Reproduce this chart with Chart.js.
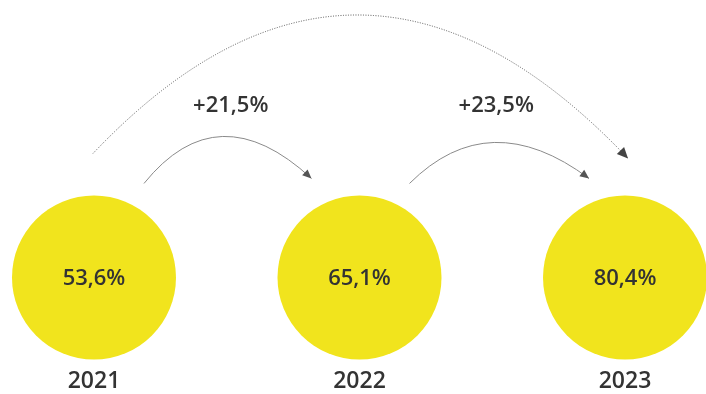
<!DOCTYPE html>
<html>
<head>
<meta charset="utf-8">
<script src="https://cdn.jsdelivr.net/npm/chart.js@4.4.1/dist/chart.umd.min.js"></script>
<style>
    html, body { margin: 0; padding: 0; background: #fff; }
    #wrap { width: 706px; height: 394px; }
</style>
</head>
<body>
<div id="wrap"><canvas id="chart"></canvas></div>
<script>
// Données
const years = [2021, 2022, 2023];
const shares = [53.6, 65.1, 80.4];
const changes = [21.5, 23.5];

// Style
const YELLOW = '#f1e41d';
const TEXT = '#333333';
const FONT = '"Open Sans", "Noto Sans", sans-serif';
const arcEndInset = [48, 36];
const arcPeak = [141, 135];

function formatPct(v, sign) {
    return (sign && v > 0 ? '+' : '') + v.toFixed(1).replace('.', ',') + '%';
}

// Flèche en courbe quadratique, avec pointe
function drawArrow(ctx, x0, y0, x1, y1, px, py, opts) {
    const cx = 2 * px - 0.5 * (x0 + x1);
    const cy = 2 * py - 0.5 * (y0 + y1);
    ctx.save();
    ctx.strokeStyle = opts.line;
    ctx.lineWidth = 1;
    ctx.setLineDash(opts.dash || []);
    ctx.beginPath();
    ctx.moveTo(x0, y0);
    ctx.quadraticCurveTo(cx, cy, x1, y1);
    ctx.stroke();
    ctx.setLineDash([]);
    const a = Math.atan2(y1 - cy, x1 - cx);
    const L = opts.headLen, W = opts.headW;
    ctx.fillStyle = opts.head;
    ctx.beginPath();
    ctx.moveTo(x1, y1);
    ctx.lineTo(x1 - L * Math.cos(a) + W * Math.sin(a), y1 - L * Math.sin(a) - W * Math.cos(a));
    ctx.lineTo(x1 - L * Math.cos(a) - W * Math.sin(a), y1 - L * Math.sin(a) + W * Math.cos(a));
    ctx.closePath();
    ctx.fill();
    ctx.restore();
}

const overlayPlugin = {
    id: 'overlay',
    afterDatasetsDraw(chart) {
        const ctx = chart.ctx;
        const xs = chart.scales.x, ys = chart.scales.y;
        const cy = ys.getPixelForValue(0);
        const px = years.map(y => xs.getPixelForValue(y));

        ctx.save();
        ctx.textAlign = 'center';
        ctx.textBaseline = 'middle';
        ctx.fillStyle = TEXT;

        // Valeurs dans les cercles
        ctx.font = '600 22px ' + FONT;
        shares.forEach((v, i) => ctx.fillText(formatPct(v), px[i], cy + 1));

        // Années sous les cercles
        ctx.font = '600 23px ' + FONT;
        years.forEach((y, i) => ctx.fillText(String(y), px[i], cy + 104));

        // Variations d'une année à l'autre
        changes.forEach((c, i) => {
            const x0 = px[i] + 50, y0 = cy - 94;
            const x1 = px[i + 1] - arcEndInset[i], y1 = cy - 99;
            const mid = (x0 + x1) / 2;
            drawArrow(ctx, x0, y0, x1, y1, mid - 5, cy - arcPeak[i], {
                line: '#8a8a8a', head: '#555', headLen: 9, headW: 4
            });
            ctx.fillStyle = TEXT;
            ctx.font = '600 22px ' + FONT;
            ctx.fillText(formatPct(c, true), (px[i] + px[i + 1]) / 2 + 4, 106);
        });

        // Grand arc 2021 -> 2023
        drawArrow(ctx, px[0] - 1, cy - 124, px[2] + 3, cy - 119, px[1], 15, {
            line: '#555', head: '#444', headLen: 11, headW: 5, dash: [1, 1.5]
        });
        ctx.restore();
    }
};

const ctx = document.getElementById('chart').getContext('2d');
new Chart(ctx, {
    type: 'bubble',
    data: {
        datasets: [{
            data: years.map(y => ({ x: y, y: 0 })),
            backgroundColor: YELLOW,
            borderWidth: 0,
            radius: 82,
            hoverRadius: 0,
            clip: false
        }]
    },
    options: {
        responsive: true,
        maintainAspectRatio: false,
        animation: false,
        events: [],
        layout: { padding: 0, autoPadding: false },
        plugins: {
            legend: { display: false },
            tooltip: { enabled: false }
        },
        scales: {
            x: { type: 'linear', display: false, min: 2020.646, max: 2023.305 },
            y: { type: 'linear', display: false, min: -0.42, max: 1 }
        }
    },
    plugins: [overlayPlugin]
});
</script>
</body>
</html>
